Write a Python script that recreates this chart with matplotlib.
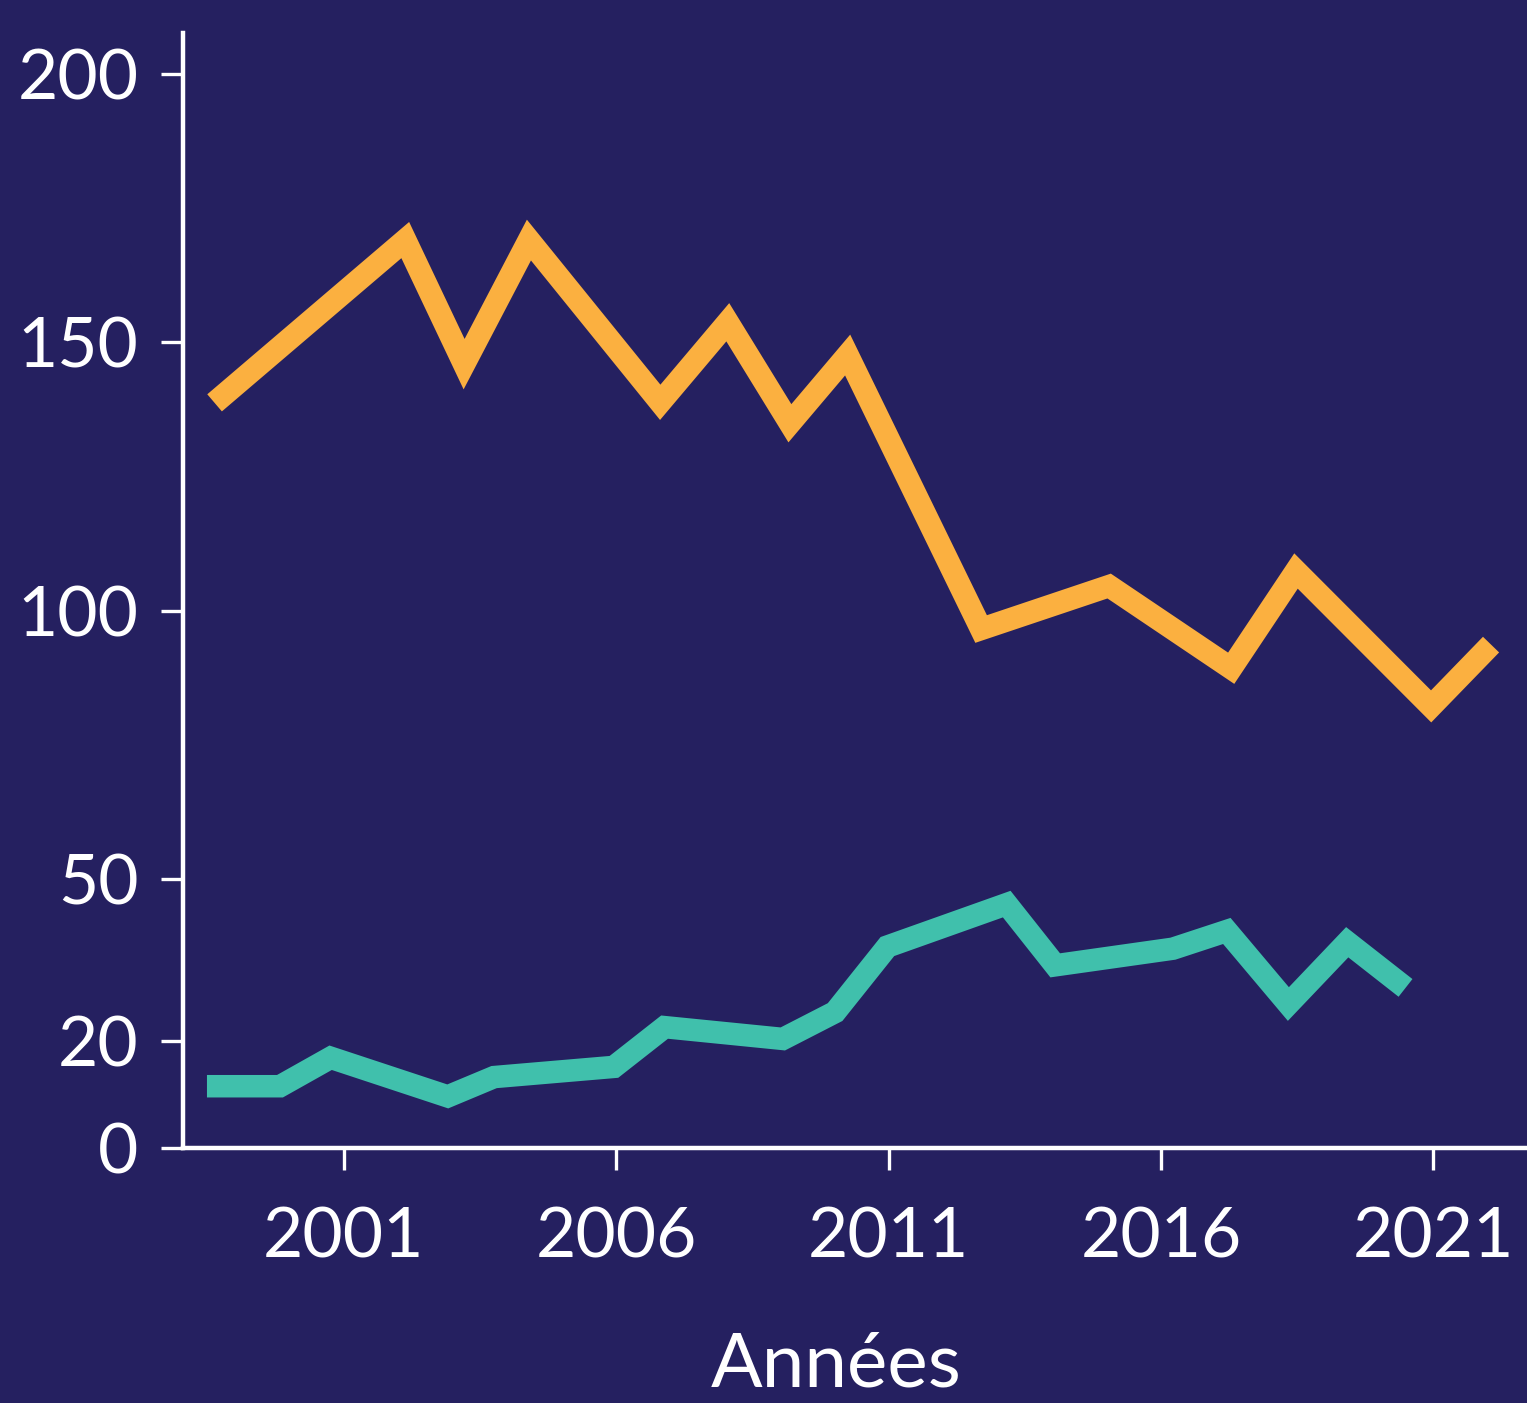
import matplotlib
matplotlib.use("Agg")
import matplotlib.pyplot as plt

# Data
orange_years = [1998.63, 2002.13, 2003.21, 2004.40, 2006.81, 2008.05, 2009.19,
                2010.25, 2012.70, 2015.05, 2017.29, 2018.48, 2020.96, 2022.06]
orange_values = [138.7, 169.0, 145.9, 169.0, 138.8, 153.7, 134.9,
                 147.6, 96.6, 104.6, 89.3, 107.4, 82.2, 93.7]

teal_years = [1998.49, 1999.83, 2000.76, 2002.91, 2003.76, 2005.96, 2006.89,
              2009.06, 2010.02, 2010.98, 2013.17, 2014.06, 2016.22, 2017.21,
              2018.34, 2019.42, 2020.49]
teal_values = [11.5, 11.5, 16.8, 9.6, 13.2, 15.1, 22.5,
               20.3, 25.3, 37.5, 45.4, 34.0, 37.1, 40.4,
               26.8, 38.3, 29.8]

x_ticks = [2001, 2006, 2011, 2016, 2021]
y_ticks = [0, 20, 50, 100, 150, 200]
x_label = "Années"

BG = "#252060"
ORANGE = "#FBB040"
TEAL = "#40C0AC"
WHITE = "#FFFFFF"

plt.rcParams['font.family'] = ['Lato', 'DejaVu Sans']

fig = plt.figure(figsize=(15.27, 14.03), dpi=100, facecolor=BG)
ax = fig.add_axes([183/1527, (1403-1148)/1403, (1527-183)/1527, (1148-33)/1403])
ax.set_facecolor(BG)

ax.plot(orange_years, orange_values, color=ORANGE, lw=16.2,
        solid_joinstyle='miter', solid_capstyle='butt')
ax.plot(teal_years, teal_values, color=TEAL, lw=16.2,
        solid_joinstyle='miter', solid_capstyle='butt')

x0 = 2001 - (343.7 - 183) / 54.48
x1 = 2001 + (1527 - 343.7) / 54.48
ax.set_xlim(x0, x1)
ax.set_ylim(0, (1147.5 - 33) / 5.37)

for s in ['top', 'right']:
    ax.spines[s].set_visible(False)
for s in ['left', 'bottom']:
    ax.spines[s].set_color(WHITE)
    ax.spines[s].set_linewidth(3.2)

ax.set_xticks(x_ticks)
ax.set_xticklabels([str(v) for v in x_ticks])
ax.set_yticks(y_ticks)
ax.set_yticklabels([str(v) for v in y_ticks])
ax.tick_params(axis='both', colors=WHITE, width=2.4, length=16,
               labelsize=50, direction='out')
ax.tick_params(axis='y', pad=16)
ax.tick_params(axis='x', pad=26)

ax.set_xlabel(x_label, color=WHITE, fontsize=55)
ax.xaxis.set_label_coords((836 - 183) / 1344, -0.164)

fig.savefig("out.png", dpi=100, facecolor=BG)
